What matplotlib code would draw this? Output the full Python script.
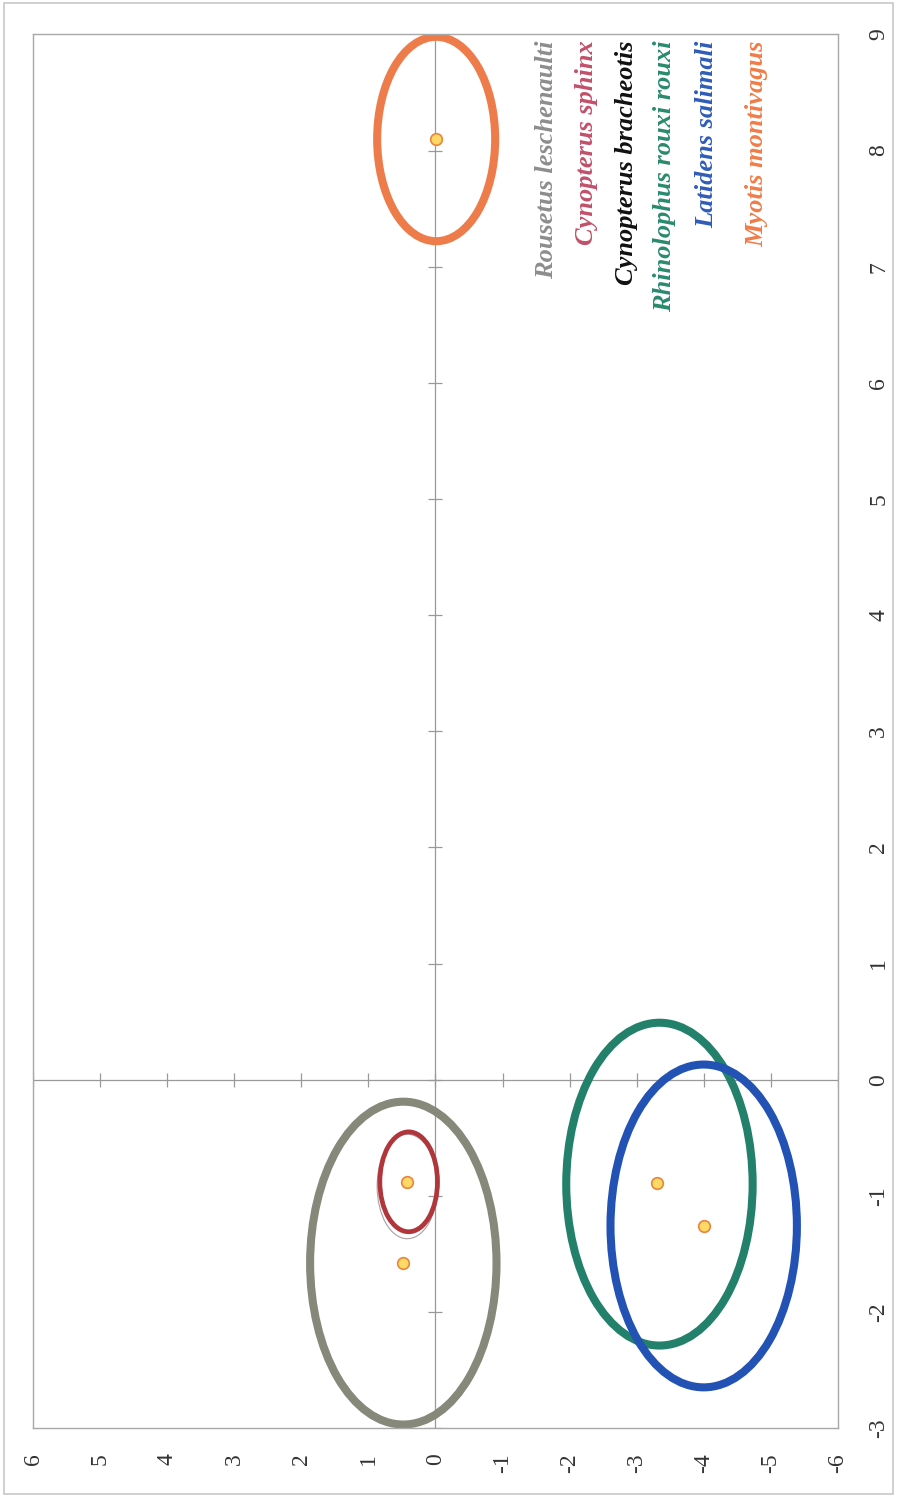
import matplotlib
matplotlib.use('Agg')
import matplotlib.pyplot as plt
from matplotlib.patches import Ellipse, Rectangle

# species, ellipse centre (PC1, PC2), radius, colour
species = ['Rousetus leschenaulti', 'Cynopterus sphinx', 'Cynopterus bracheotis',
           'Rhinolophus rouxi rouxi', 'Latidens salimali', 'Myotis montivagus']
label_colors = ['#8d8d8d', '#c2506a', '#111111', '#2a8a6c', '#2f5cb8', '#f07c48']

ell_pc1 = [-1.58, -0.88, -0.92, -0.90, -1.26, 8.10]
ell_pc2 = [0.48, 0.40, 0.42, -3.34, -4.00, -0.01]
ell_r = [1.39, 0.43, 0.45, 1.39, 1.39, 0.88]
ell_colors = ['#86887a', '#b0363c', '#a8a0a0', '#23806a', '#2352b5', '#ee7b4a']
ell_lw = [5.8, 3.4, 0.8, 5.8, 5.8, 5.8]

# group means
pt_pc1 = [-1.58, -0.88, -0.89, -1.26, 8.10]
pt_pc2 = [0.48, 0.42, -3.31, -4.00, -0.01]

pc1_ticks = [-3, -2, -1, 0, 1, 2, 3, 4, 5, 6, 7, 8, 9]
pc2_ticks = [6, 5, 4, 3, 2, 1, 0, -1, -2, -3, -4, -5, -6]

plt.rcParams['font.family'] = ['Liberation Serif', 'DejaVu Serif']

fig = plt.figure(figsize=(8.97, 15.0), dpi=100)
fig.patches.append(Rectangle((0.004, 0.004), 0.992, 0.994, transform=fig.transFigure,
                             fill=False, edgecolor='#c8c8c8', linewidth=1.2))
ax = fig.add_axes([0.037, 0.048, 0.897, 0.929])

# chart is turned on its side: PC2 runs across (6 -> -6), PC1 runs up (-3 -> 9)
ax.set_xlim(6, -6)
ax.set_ylim(-3, 9)

for s in ax.spines.values():
    s.set_color('#a8a8a8')
    s.set_linewidth(1.0)

ax.set_xticks(pc2_ticks)
ax.set_xticklabels([str(t) for t in pc2_ticks], rotation=90, fontsize=17, color='#333333')
ax.set_yticks(pc1_ticks)
ax.set_yticklabels([str(t) for t in pc1_ticks], rotation=90, fontsize=17, color='#333333',
                   va='center')
ax.yaxis.tick_right()
ax.tick_params(axis='x', length=0, pad=18)
ax.tick_params(axis='y', length=0, pad=22)

# axis lines through the origin with their own ticks
ax.axhline(0, color='#999999', linewidth=0.9, zorder=1)
ax.axvline(0, color='#999999', linewidth=0.9, zorder=1)
ax.plot(pc2_ticks, [0] * len(pc2_ticks), '|', color='#999999', markersize=10, mew=0.9, zorder=1)
ax.plot([0] * len(pc1_ticks), pc1_ticks, '_', color='#999999', markersize=10, mew=0.9, zorder=1)

order = [2, 0, 1, 3, 4, 5]
for i in order:
    ax.add_patch(Ellipse((ell_pc2[i], ell_pc1[i]), 2 * ell_r[i], 2 * ell_r[i],
                         fill=False, edgecolor=ell_colors[i], linewidth=ell_lw[i], zorder=2))

ax.scatter(pt_pc2, pt_pc1, s=70, color='#ffd966', edgecolor='#e8843c', linewidth=1.2, zorder=3)

# species labels, written upward
lab_x = [-1.65, -2.25, -2.85, -3.42, -4.05, -4.80]
for name, c, xx in zip(species, label_colors, lab_x):
    ax.text(xx, 8.95, name, rotation=90, ha='center', va='top', fontsize=19,
            fontweight='bold', fontstyle='italic', color=c, zorder=4)

fig.savefig('out.png', dpi=100)
